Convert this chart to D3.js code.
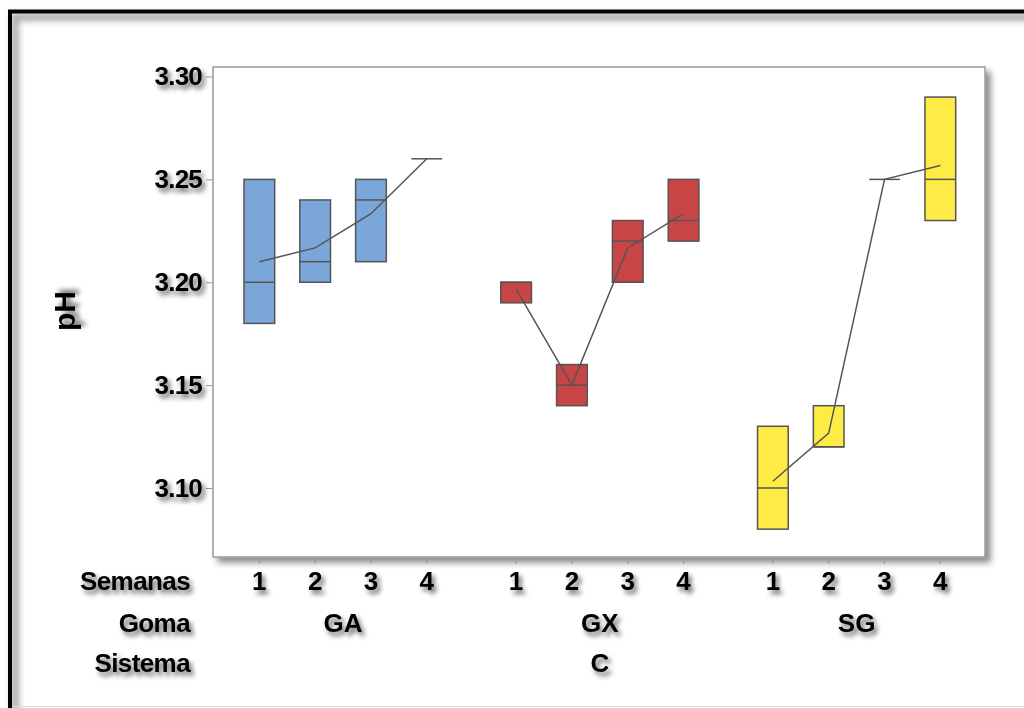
<!DOCTYPE html>
<html>
<head>
<meta charset="utf-8">
<script src="https://cdn.jsdelivr.net/npm/d3@7"></script>
<style>
  body { margin: 0; background: #fff; }
  text { font-family: "Liberation Sans", Arial, sans-serif; font-weight: bold; fill: #000; }
</style>
</head>
<body>
<div id="chart"></div>
<script>
// data
var semanas = [1, 2, 3, 4];
var gomas = ["GA", "GX", "SG"];
var sistema = "C";
var colores = ["#7BA6DA", "#C94445", "#FFEB45"];
var yTicks = [3.10, 3.15, 3.20, 3.25, 3.30];

var q3 = [
  [3.25, 3.24, 3.25, 3.26],
  [3.20, 3.16, 3.23, 3.25],
  [3.13, 3.14, 3.25, 3.29]
];
var q1 = [
  [3.18, 3.20, 3.21, 3.26],
  [3.19, 3.14, 3.20, 3.22],
  [3.08, 3.12, 3.25, 3.23]
];
var mediana = [
  [3.20, 3.21, 3.24, 3.26],
  [3.20, 3.15, 3.22, 3.23],
  [3.10, 3.12, 3.25, 3.25]
];
var media = [
  [3.21, 3.2167, 3.2333, 3.26],
  [3.1967, 3.15, 3.2167, 3.2333],
  [3.1033, 3.1267, 3.25, 3.2567]
];

//chart set ups
var svgWidth = 1024;
var svgHeight = 708;
var plot = { left: 213, top: 67, right: 985, bottom: 557 };
var groupStep = 4.6;

var svg = d3.select('#chart')
  .append('svg')
  .attr('width', svgWidth)
  .attr('height', svgHeight);

var defs = svg.append('defs');
defs.append('filter')
  .attr('id', 'tshadow')
  .attr('x', '-20%').attr('y', '-20%').attr('width', '160%').attr('height', '180%')
  .append('feDropShadow')
  .attr('dx', 3).attr('dy', 4)
  .attr('stdDeviation', 2.5)
  .attr('flood-color', '#000')
  .attr('flood-opacity', 0.6);
defs.append('filter')
  .attr('id', 'fshadow')
  .attr('x', '-5%').attr('y', '-5%').attr('width', '115%').attr('height', '115%')
  .append('feDropShadow')
  .attr('dx', 5).attr('dy', 5)
  .attr('stdDeviation', 3)
  .attr('flood-color', '#000')
  .attr('flood-opacity', 0.45);
defs.append('filter')
  .attr('id', 'blur')
  .append('feGaussianBlur')
  .attr('stdDeviation', 3);

// outer frame with inner shadow
svg.append('rect')
  .attr('x', 15).attr('y', 17)
  .attr('width', 1040).attr('height', 720)
  .attr('fill', 'none')
  .attr('stroke', '#aaa')
  .attr('stroke-width', 8)
  .attr('filter', 'url(#blur)');
svg.append('rect')
  .attr('x', 10).attr('y', 11.5)
  .attr('width', 1040).attr('height', 720)
  .attr('fill', 'none')
  .attr('stroke', '#000')
  .attr('stroke-width', 4);
svg.append('line')
  .attr('x1', 12).attr('x2', svgWidth)
  .attr('y1', 706.5).attr('y2', 706.5)
  .attr('stroke', '#ddd');

// scales
var x = d3.scaleLinear()
  .domain([-0.83, 2 * groupStep + 3 + 0.8])
  .range([plot.left, plot.right]);
var y = d3.scaleLinear()
  .domain([3.10, 3.30])
  .range([488, 76.5]);

function pos(g, w) { return g * groupStep + (w - 1); }

// plot frame
svg.append('rect')
  .attr('x', plot.left).attr('y', plot.top)
  .attr('width', plot.right - plot.left)
  .attr('height', plot.bottom - plot.top)
  .attr('fill', '#fff')
  .attr('stroke', '#999')
  .attr('stroke-width', 1.5)
  .attr('filter', 'url(#fshadow)');

// y axis
var leftAxis = d3.axisLeft(y)
  .tickValues(yTicks)
  .tickFormat(d3.format('.2f'))
  .tickSize(7)
  .tickPadding(4);
var yAxis = svg.append('g')
  .attr('transform', `translate(${plot.left},0)`)
  .call(leftAxis);
yAxis.select('.domain').remove();
yAxis.selectAll('line').attr('stroke', '#999');
yAxis.selectAll('text')
  .attr('font-size', 26)
  .attr('font-family', '"Liberation Sans", Arial, sans-serif')
  .attr('font-weight', 'bold')
  .attr('letter-spacing', -0.8)
  .attr('fill', '#000')
  .attr('filter', 'url(#tshadow)');

// x ticks (semanas)
var ticks = [];
gomas.forEach((g, gi) => semanas.forEach(w => ticks.push({ g: gi, w: w })));

svg.append('g').selectAll('line')
  .data(ticks)
  .enter()
  .append('line')
  .attr('x1', d => x(pos(d.g, d.w)))
  .attr('x2', d => x(pos(d.g, d.w)))
  .attr('y1', plot.bottom)
  .attr('y2', plot.bottom + 7)
  .attr('stroke', '#999');

svg.append('g').selectAll('text')
  .data(ticks)
  .enter()
  .append('text')
  .attr('x', d => x(pos(d.g, d.w)))
  .attr('y', 590)
  .attr('text-anchor', 'middle')
  .attr('font-size', 26)
  .attr('filter', 'url(#tshadow)')
  .text(d => d.w);

// group labels
svg.append('g').selectAll('text')
  .data(gomas)
  .enter()
  .append('text')
  .attr('x', (d, i) => x(pos(i, 2.5)))
  .attr('y', 632)
  .attr('text-anchor', 'middle')
  .attr('font-size', 26)
  .attr('filter', 'url(#tshadow)')
  .text(d => d);

svg.append('text')
  .attr('x', x(pos(1, 2.5)))
  .attr('y', 672)
  .attr('text-anchor', 'middle')
  .attr('font-size', 26)
  .attr('filter', 'url(#tshadow)')
  .text(sistema);

// row labels
var rowLabels = ["Semanas", "Goma", "Sistema"];
var rowY = [590, 632, 672];
svg.append('g').selectAll('text')
  .data(rowLabels)
  .enter()
  .append('text')
  .attr('x', 190)
  .attr('y', (d, i) => rowY[i])
  .attr('text-anchor', 'end')
  .attr('font-size', 26)
  .attr('letter-spacing', -0.6)
  .attr('filter', 'url(#tshadow)')
  .text(d => d);

// y label
svg.append('text')
  .attr('transform', 'translate(75,311) rotate(-90)')
  .attr('text-anchor', 'middle')
  .attr('font-size', 30)
  .attr('filter', 'url(#tshadow)')
  .text('pH');

// boxes
var boxW = 0.55;
var boxes = [];
gomas.forEach((g, gi) => semanas.forEach((w, wi) => boxes.push({
  g: gi, w: w, q1: q1[gi][wi], q3: q3[gi][wi], med: mediana[gi][wi]
})));

var boxGroup = svg.append('g');
boxGroup.selectAll('rect')
  .data(boxes)
  .enter()
  .append('rect')
  .attr('x', d => x(pos(d.g, d.w) - boxW / 2))
  .attr('y', d => y(d.q3))
  .attr('width', d => x(pos(d.g, d.w) + boxW / 2) - x(pos(d.g, d.w) - boxW / 2))
  .attr('height', d => y(d.q1) - y(d.q3))
  .attr('fill', d => colores[d.g])
  .attr('stroke', '#555')
  .attr('stroke-width', d => d.q1 === d.q3 ? 2.2 : 1.5);

boxGroup.selectAll('line')
  .data(boxes)
  .enter()
  .append('line')
  .attr('x1', d => x(pos(d.g, d.w) - boxW / 2))
  .attr('x2', d => x(pos(d.g, d.w) + boxW / 2))
  .attr('y1', d => y(d.med))
  .attr('y2', d => y(d.med))
  .attr('stroke', '#555')
  .attr('stroke-width', 1.5);

// mean connect lines
var line = d3.line()
  .x(d => x(pos(d.g, d.w)))
  .y(d => y(d.v));

gomas.forEach((g, gi) => {
  svg.append('path')
    .datum(semanas.map((w, wi) => ({ g: gi, w: w, v: media[gi][wi] })))
    .attr('d', line)
    .attr('fill', 'none')
    .attr('stroke', '#555')
    .attr('stroke-width', 1.5);
});
</script>
</body>
</html>
